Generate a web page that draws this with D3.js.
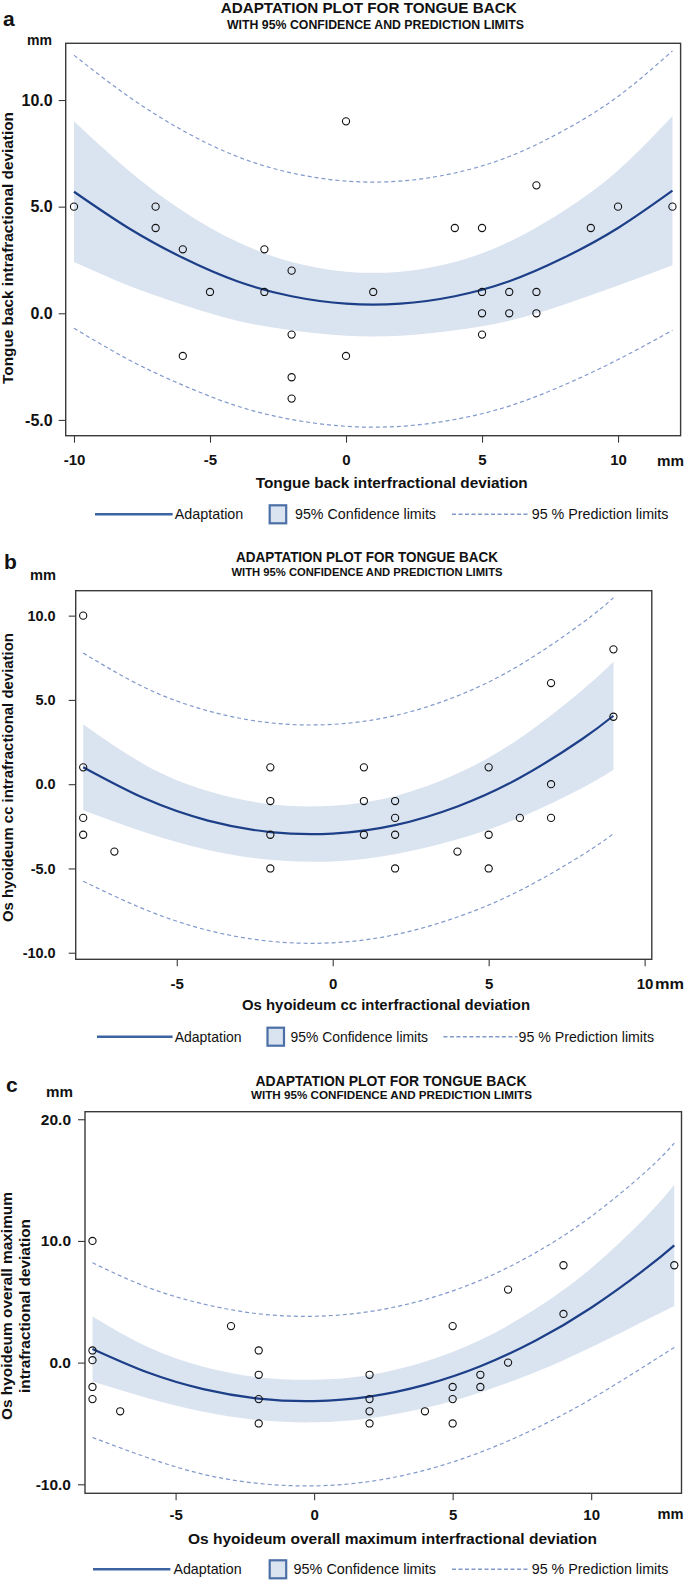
<!DOCTYPE html>
<html><head><meta charset="utf-8">
<script src="https://cdn.jsdelivr.net/npm/d3@7"></script>
<style>
body{margin:0;background:#fff}
svg{display:block}
text{font-family:"Liberation Sans",Arial,Helvetica,sans-serif}
</style>
</head><body>
<svg id="chart" width="685" height="1581"></svg>
<script>
// ---------- DATA ----------
const titleLine1 = "ADAPTATION PLOT FOR TONGUE BACK";
const titleLine2 = "WITH 95% CONFIDENCE AND PREDICTION LIMITS";
const legendLabels = ["Adaptation", "95% Confidence limits", "95 % Prediction limits"];

// Panel a
const aXTicks = [-10, -5, 0, 5, 10];
const aYTicks = [-5, 0, 5, 10];
const aPtX = [-10,-7,-7,-6,-6,-5,-3,-3,-2,-2,-2,-2,0,0,1,4,5,5,5,5,6,6,7,7,7,9,10,12];
const aPtY = [5,5,4,3,-2,1,3,1,2,-1,-3,-4,9,-2,1,4,4,1,0,-1,1,0,6,1,0,4,5,5];
const aCurveX = [-10,-8,-6,-4,-2,0,2,4,6,8,10,12];
const aFit  = [5.7,4.0,2.6,1.5,0.8,0.45,0.45,0.8,1.5,2.6,4.0,5.75];
const aCiLo = [2.4,1.3,0.4,-0.35,-0.8,-1.05,-1.05,-0.8,-0.35,0.4,1.3,2.25];
const aCiHi = [9.0,6.7,4.8,3.35,2.4,1.95,1.95,2.4,3.35,4.8,6.7,9.25];
const aPiLo = [-0.7,-2.17,-3.37,-4.35,-4.98,-5.3,-5.3,-4.98,-4.35,-3.37,-2.17,-0.8];
const aPiHi = [12.1,10.17,8.57,7.35,6.58,6.2,6.2,6.58,7.35,8.57,10.17,12.3];
const aXTitle = "Tongue back interfractional deviation";
const aYTitle = ["Tongue back intrafractional deviation"];

// Panel b
const bXTicks = [-5, 0, 5, 10];
const bYTicks = [-10, -5, 0, 5, 10];
const bPtX = [-8,-8,-8,-8,-7,-2,-2,-2,-2,1,1,1,2,2,2,2,4,5,5,5,6,7,7,7,9,9];
const bPtY = [10,1,-2,-3,-4,1,-1,-3,-5,1,-1,-3,-1,-2,-3,-5,-4,1,-3,-5,-2,6,0,-2,8,4];
const bCurveX = [-8,-6,-4,-2,0,2,4,6,8,9];
const bFit  = [1.01,-0.87,-2.16,-2.84,-2.93,-2.43,-1.32,0.38,2.68,4.06];
const bCiLo = [-1.54,-2.87,-3.91,-4.49,-4.58,-4.15,-3.27,-1.97,-0.22,0.86];
const bCiHi = [3.56,1.13,-0.41,-1.19,-1.28,-0.71,0.63,2.73,5.58,7.26];
const bPiLo = [-5.76,-7.45,-8.67,-9.32,-9.41,-8.93,-7.88,-6.31,-4.2,-2.94];
const bPiHi = [7.78,5.71,4.35,3.64,3.55,4.07,5.24,7.07,9.56,11.06];
const bXTitle = "Os hyoideum cc interfractional deviation";
const bYTitle = ["Os hyoideum cc intrafractional deviation"];

// Panel c
const cXTicks = [-5, 0, 5, 10];
const cYTicks = [-10, 0, 10, 20];
const cPtX = [-8,-8,-8,-8,-8,-7,-3,-2,-2,-2,-2,2,2,2,2,4,5,5,5,5,6,6,7,7,9,9,13];
const cPtY = [10,1,0.2,-2,-3,-4,3,1,-1,-3,-5,-1,-3,-4,-5,-4,3,-2,-3,-5,-1,-2,6,0,8,4,8];
const cCurveX = [-8,-6,-4,-2,0,2,4,6,8,10,12,13];
const cFit  = [1.12,-0.82,-2.18,-2.96,-3.16,-2.79,-1.83,-0.30,1.82,4.51,7.78,9.64];
const cCiLo = [-1.55,-2.92,-4.03,-4.72,-4.91,-4.57,-3.73,-2.45,-0.78,1.26,3.53,4.66];
const cCiHi = [3.79,1.28,-0.33,-1.2,-1.41,-1.01,0.07,1.85,4.42,7.76,12.03,14.62];
const cPiLo = [-6.15,-7.82,-9.18,-9.93,-10.13,-9.77,-8.84,-7.37,-5.4,-2.99,-0.19,1.25];
const cPiHi = [8.2,6.18,4.82,4.01,3.81,4.19,5.18,6.77,9.04,12.01,15.75,18.03];
const cXTitle = "Os hyoideum overall maximum interfractional deviation";
const cYTitle = ["Os hyoideum overall maximum", "intrafractional deviation"];

// ---------- LAYOUT / STYLE ----------
const COL = {
  fit: "#1d3f88", ci: "#dae3f0", pi: "#8199cb", box: "#3a3a3a",
  legLine: "#3c64a2", legBoxStroke: "#4b6fa6", text: "#111"
};

const panels = [
  { id: "a", letter: "a", letterXY: [3, 26],
    l: 65.7, r: 680.6, t: 43.3, b: 435.7, xDom: [-10.305, 12.3], yDom: [-5.74, 12.66],
    xTicks: aXTicks, yTicks: aYTicks, ptX: aPtX, ptY: aPtY,
    cx: aCurveX, fit: aFit, ciLo: aCiLo, ciHi: aCiHi, piLo: aPiLo, piHi: aPiHi,
    yTickFs: 16, yTickPad: 6, xTickPad: 11.5,
    t1: { x: 368.7, y: 13, w: 296, fs: 14 }, t2: { x: 375.5, y: 29, w: 297, fs: 12 },
    yUnit: { x: 27, y: 45, w: 25 }, xUnit: { x: 657, y: 465.5, w: 27 },
    xTitle: aXTitle, xTitlePos: { x: 391.7, y: 488, w: 272 },
    yTitle: aYTitle, yTitlePos: [{ x: 12.5, y: 248, w: 272 }],
    leg: { y: 514.3, line: [95, 172.6], t1: [174.7, 68.6], box: 268.7, t2: [295, 141], dash: [452, 530], t3: [531.7, 136.7] } },
  { id: "b", letter: "b", letterXY: [4, 569],
    l: 75.7, r: 651.8, t: 590.7, b: 959.3, xDom: [-8.24, 10.23], yDom: [-10.39, 11.48],
    xTicks: bXTicks, yTicks: bYTicks, ptX: bPtX, ptY: bPtY,
    cx: bCurveX, fit: bFit, ciLo: bCiLo, ciHi: bCiHi, piLo: bPiLo, piHi: bPiHi,
    yTickFs: 14.5, yTickPad: 13, xTickPad: 12.5,
    t1: { x: 367, y: 562, w: 262, fs: 14 }, t2: { x: 367, y: 576, w: 271, fs: 11.5 },
    yUnit: { x: 30, y: 580, w: 26 }, xUnit: { x: 655, y: 988.5, w: 29 },
    xTitle: bXTitle, xTitlePos: { x: 386, y: 1010, w: 288 },
    yTitle: bYTitle, yTitlePos: [{ x: 13, y: 777.5, w: 289 }],
    leg: { y: 1036.7, line: [97, 172.6], t1: [174.7, 66.9], box: 266.5, t2: [290.5, 137.5], dash: [443.4, 517.7], t3: [518.6, 135.4] } },
  { id: "c", letter: "c", letterXY: [6, 1092],
    l: 85, r: 681.5, t: 1111.7, b: 1493.3, xDom: [-8.27, 13.26], yDom: [-10.74, 20.62],
    xTicks: cXTicks, yTicks: cYTicks, ptX: cPtX, ptY: cPtY,
    cx: cCurveX, fit: cFit, ciLo: cCiLo, ciHi: cCiHi, piLo: cPiLo, piHi: cPiHi,
    yTickFs: 15.5, yTickPad: 7, xTickPad: 9,
    t1: { x: 391, y: 1086, w: 271, fs: 14 }, t2: { x: 391.5, y: 1099, w: 281, fs: 11.5 },
    yUnit: { x: 46, y: 1097, w: 27 }, xUnit: { x: 657.5, y: 1518.5, w: 26 },
    xTitle: cXTitle, xTitlePos: { x: 392.5, y: 1544, w: 409 },
    yTitle: cYTitle, yTitlePos: [{ x: 12, y: 1306, w: 228 }, { x: 29.5, y: 1306, w: 174 }],
    leg: { y: 1569.3, line: [93, 170.4], t1: [173.4, 68.2], box: 268.7, t2: [293.6, 142.4], dash: [452, 530], t3: [531.7, 136.7] } }
];

const svg = d3.select("#chart");
const defs = svg.append("defs");

function fitText(sel, w) {
  sel.attr("textLength", w).attr("lengthAdjust", "spacingAndGlyphs");
  return sel;
}

panels.forEach(p => {
  const g = svg.append("g").attr("class", "panel-" + p.id);
  const x = d3.scaleLinear().domain(p.xDom).range([p.l, p.r]);
  const y = d3.scaleLinear().domain(p.yDom).range([p.b, p.t]);
  const idx = d3.range(p.cx.length);

  defs.append("clipPath").attr("id", "clip-" + p.id)
    .append("rect").attr("x", p.l).attr("y", p.t).attr("width", p.r - p.l).attr("height", p.b - p.t);

  const plot = g.append("g").attr("clip-path", `url(#clip-${p.id})`);

  // confidence band
  plot.append("path")
    .attr("d", d3.area().x(i => x(p.cx[i])).y0(i => y(p.ciLo[i])).y1(i => y(p.ciHi[i])).curve(d3.curveNatural)(idx))
    .attr("fill", COL.ci);

  // prediction limits
  [p.piLo, p.piHi].forEach(arr => {
    plot.append("path")
      .attr("d", d3.line().x(i => x(p.cx[i])).y(i => y(arr[i])).curve(d3.curveNatural)(idx))
      .attr("fill", "none").attr("stroke", COL.pi).attr("stroke-width", 1.2)
      .attr("stroke-dasharray", "4,3");
  });

  // fit line
  plot.append("path")
    .attr("d", d3.line().x(i => x(p.cx[i])).y(i => y(p.fit[i])).curve(d3.curveNatural)(idx))
    .attr("fill", "none").attr("stroke", COL.fit).attr("stroke-width", 2.2);

  // points
  g.append("g").selectAll("circle").data(d3.range(p.ptX.length)).join("circle")
    .attr("cx", i => x(p.ptX[i])).attr("cy", i => y(p.ptY[i])).attr("r", 3.6)
    .attr("fill", "none").attr("stroke", "#111").attr("stroke-width", 1.1);

  // frame
  g.append("rect").attr("x", p.l).attr("y", p.t).attr("width", p.r - p.l).attr("height", p.b - p.t)
    .attr("fill", "none").attr("stroke", COL.box).attr("stroke-width", 1.4);

  // axes
  const ya = g.append("g").attr("transform", `translate(${p.l},0)`)
    .call(d3.axisLeft(y).tickValues(p.yTicks).tickFormat(d => d.toFixed(1)).tickSize(7).tickPadding(p.yTickPad));
  ya.select(".domain").remove();
  ya.selectAll("line").attr("stroke", COL.box).attr("stroke-width", 1.1);
  ya.selectAll("text").attr("font-family", '"Liberation Sans",Arial,sans-serif').attr("font-weight", "bold")
    .attr("font-size", p.yTickFs).attr("fill", COL.text);

  const xa = g.append("g").attr("transform", `translate(0,${p.b})`)
    .call(d3.axisBottom(x).tickValues(p.xTicks).tickFormat(d => String(d)).tickSize(7).tickPadding(p.xTickPad));
  xa.select(".domain").remove();
  xa.selectAll("line").attr("stroke", COL.box).attr("stroke-width", 1.1);
  xa.selectAll("text").attr("font-family", '"Liberation Sans",Arial,sans-serif').attr("font-weight", "bold")
    .attr("font-size", 15).attr("fill", COL.text);

  // unit labels
  fitText(g.append("text").attr("x", p.yUnit.x).attr("y", p.yUnit.y).attr("font-size", 15)
    .attr("font-weight", "bold").attr("fill", COL.text).text("mm"), p.yUnit.w);
  fitText(g.append("text").attr("x", p.xUnit.x).attr("y", p.xUnit.y).attr("font-size", 15)
    .attr("font-weight", "bold").attr("fill", COL.text).text("mm"), p.xUnit.w);

  // panel letter
  g.append("text").attr("x", p.letterXY[0]).attr("y", p.letterXY[1]).attr("font-size", 21)
    .attr("font-weight", "bold").attr("fill", COL.text).text(p.letter);

  // titles
  fitText(g.append("text").attr("x", p.t1.x - p.t1.w / 2).attr("y", p.t1.y).attr("font-size", p.t1.fs)
    .attr("font-weight", "bold").attr("fill", COL.text).text(titleLine1), p.t1.w);
  fitText(g.append("text").attr("x", p.t2.x - p.t2.w / 2).attr("y", p.t2.y).attr("font-size", p.t2.fs)
    .attr("font-weight", "bold").attr("fill", COL.text).text(titleLine2), p.t2.w);

  // x title
  fitText(g.append("text").attr("x", p.xTitlePos.x - p.xTitlePos.w / 2).attr("y", p.xTitlePos.y)
    .attr("font-size", 15.5).attr("font-weight", "bold").attr("fill", COL.text).text(p.xTitle), p.xTitlePos.w);

  // y title(s)
  p.yTitle.forEach((s, k) => {
    const pos = p.yTitlePos[k];
    fitText(g.append("text").attr("transform", `translate(${pos.x},${pos.y + pos.w / 2}) rotate(-90)`)
      .attr("x", 0).attr("y", 0).attr("font-size", 14).attr("font-weight", "bold").attr("fill", COL.text).text(s), pos.w);
  });

  // legend
  const L = p.leg;
  g.append("line").attr("x1", L.line[0]).attr("x2", L.line[1]).attr("y1", L.y).attr("y2", L.y)
    .attr("stroke", COL.legLine).attr("stroke-width", 2.5);
  fitText(g.append("text").attr("x", L.t1[0]).attr("y", L.y + 5).attr("font-size", 15).attr("fill", COL.text).text(legendLabels[0]), L.t1[1]);
  g.append("rect").attr("x", L.box + 1).attr("y", L.y - 9).attr("width", 16.5).attr("height", 18)
    .attr("fill", COL.ci).attr("stroke", COL.legBoxStroke).attr("stroke-width", 2.2);
  fitText(g.append("text").attr("x", L.t2[0]).attr("y", L.y + 5).attr("font-size", 15).attr("fill", COL.text).text(legendLabels[1]), L.t2[1]);
  g.append("line").attr("x1", L.dash[0]).attr("x2", L.dash[1]).attr("y1", L.y).attr("y2", L.y)
    .attr("stroke", COL.pi).attr("stroke-width", 1.4).attr("stroke-dasharray", "4,2.5");
  fitText(g.append("text").attr("x", L.t3[0]).attr("y", L.y + 5).attr("font-size", 15).attr("fill", COL.text).text(legendLabels[2]), L.t3[1]);
});
</script>
</body></html>
